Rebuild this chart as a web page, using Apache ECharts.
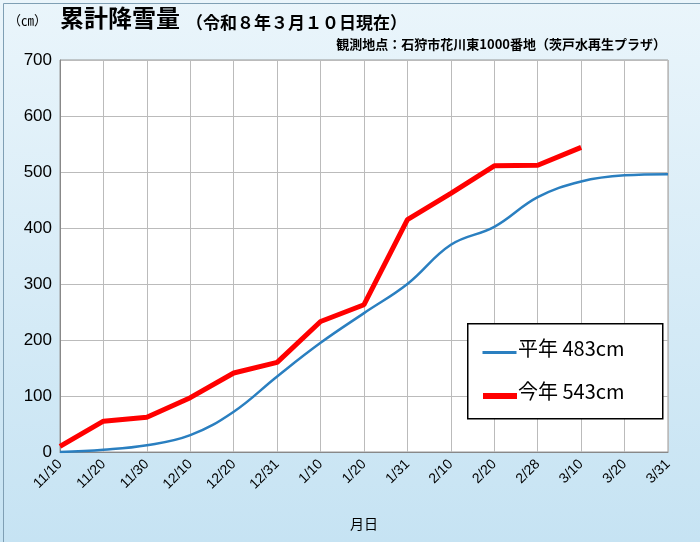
<!DOCTYPE html>
<html><head><meta charset="utf-8">
<script src="https://cdn.jsdelivr.net/npm/echarts@6/dist/echarts.min.js"></script>
<style>html,body{margin:0;padding:0}#c{width:700px;height:542px}</style>
</head><body><div id="c"></div>
<script>
const categories=['11/10','11/20','11/30','12/10','12/20','12/31','1/10','1/20','1/31','2/10','2/20','2/28','3/10','3/20','3/31'];
const normalValues=[0,4,12,30,72,135,195,248,300,370,402,455,483,494,496];
const thisYearValues=[10,55,62,97,141,160,233,263,415,462,511,512,544];
const yTicks=[0,100,200,300,400,500,600,700];
const chart=echarts.init(document.getElementById('c'));
const font='"Noto Sans CJK JP"';
chart.setOption({
 backgroundColor:{type:'linear',x:0,y:0,x2:0,y2:1,colorStops:[{offset:0,color:'#eaf5fb'},{offset:1,color:'#c6e3f3'}]},
 graphic:[
  {type:'rect',left:1,top:1,shape:{width:697,height:539},style:{fill:'none',stroke:'#7f9fb4',lineWidth:1}},
  {type:'text',left:8,top:14,style:{text:'（㎝）',font:'13px '+font,fill:'#000'}},
  {type:'text',left:60,top:6,style:{text:'累計降雪量',font:'bold 24px '+font,fill:'#000'}},
  {type:'text',left:186,top:14,style:{text:'（令和８年３月１０日現在）',font:'bold 17px '+font,fill:'#000'}},
  {type:'text',right:34,top:38,style:{text:'観測地点：石狩市花川東1000番地（茨戸水再生プラザ）',font:'bold 13px '+font,fill:'#000'}},
  {type:'rect',left:467,top:323,shape:{width:195,height:95},style:{fill:'#fff',stroke:'#000',lineWidth:1.5},z:10},
  {type:'line',left:480,top:350,shape:{x1:0,y1:0,x2:34,y2:0},style:{stroke:'#2a7fc0',lineWidth:3},z:11},
  {type:'text',left:518,top:338,style:{text:'平年 483cm',font:'20px '+font,fill:'#000'},z:11},
  {type:'line',left:480,top:393,shape:{x1:0,y1:0,x2:34,y2:0},style:{stroke:'#ff0000',lineWidth:6},z:11},
  {type:'text',left:518,top:381,style:{text:'今年 543cm',font:'20px '+font,fill:'#000'},z:11}
 ],
 grid:{left:60,right:32,top:60,bottom:90,backgroundColor:'#fff',show:true,borderColor:'#999',borderWidth:1},
 xAxis:{type:'category',data:categories,boundaryGap:false,name:'月日',nameLocation:'middle',nameGap:65,
  nameTextStyle:{fontSize:14,fontFamily:font,color:'#000'},
  axisLine:{lineStyle:{color:'#888'}},axisTick:{show:false},
  axisLabel:{rotate:45,fontSize:14,color:'#000',fontFamily:'Arial',margin:10},
  splitLine:{show:true,lineStyle:{color:'#bbb'}}},
 yAxis:{type:'value',min:0,max:700,interval:100,
  axisLine:{show:true,lineStyle:{color:'#888'}},
  axisLabel:{fontSize:17,color:'#000',fontFamily:'Arial',formatter:v=>yTicks.includes(v)?String(v):''},
  splitLine:{lineStyle:{color:'#bbb'}}},
 series:[
  {type:'line',data:normalValues,smooth:0.4,symbol:'none',lineStyle:{color:'#2a7fc0',width:2.5}},
  {type:'line',data:thisYearValues,symbol:'none',lineStyle:{color:'#ff0000',width:5}}
 ]
});
</script></body></html>
